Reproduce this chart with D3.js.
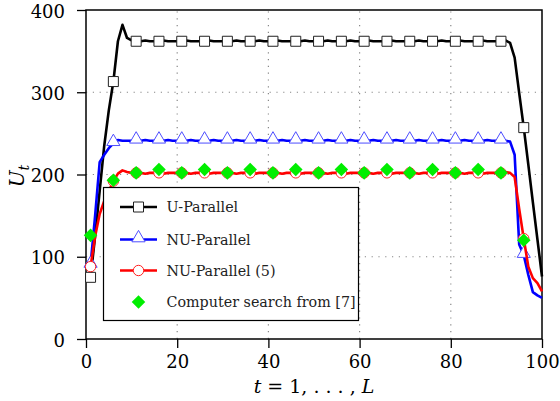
<!DOCTYPE html>
<html><head><meta charset="utf-8">
<script src="https://cdn.jsdelivr.net/npm/d3@7"></script>
<style>body{margin:0;background:#fff;}svg{display:block;}</style>
</head><body>
<svg id="c" width="560" height="401"></svg>
<script>
const seriesNames = ["U-Parallel", "NU-Parallel", "NU-Parallel (5)", "Computer search from [7]"];
const xTicks = [0, 20, 40, 60, 80, 100];
const yTicks = [0, 100, 200, 300, 400];

const uParallel = [
 75,125,180,235,278,313,362,382,366,363,
 362,362,363,362,362,362,363,362,362,362,
 362,363,362,362,362,362,363,362,362,362,
 362,362,363,362,362,362,362,363,362,362,
 362,363,362,362,362,362,362,363,362,362,
 362,362,363,362,362,362,362,363,362,362,
 362,363,362,362,362,362,363,362,362,362,
 362,362,363,362,362,362,362,363,362,362,
 362,363,362,362,362,362,363,362,362,362,
 362,363,360,342,299,257,212,166,121,76];

const nuParallel = [
 90,150,215,224,232,238,242,241,241,241,
 241,241,242,241,241,241,241,242,241,241,
 241,241,242,241,241,241,241,242,241,241,
 241,241,242,241,241,241,241,242,241,241,
 241,241,242,241,241,241,241,242,241,241,
 241,241,242,241,241,241,241,242,241,241,
 241,241,242,241,241,241,241,242,241,241,
 241,241,242,241,241,241,241,242,241,241,
 241,241,242,241,241,241,241,242,241,241,
 241,241,240,224,115,102,78,57,53,50];

const nuParallel5 = [
 88,125,152,168,180,192,201,205,203,202,
 202,202,201,202,202,202,201,202,202,202,
 202,202,201,202,202,202,201,202,202,202,
 202,202,201,202,202,202,201,202,202,202,
 202,202,201,202,202,202,201,202,202,202,
 202,202,201,202,202,202,201,202,202,202,
 202,202,201,202,202,202,201,202,202,202,
 202,202,201,202,202,202,201,202,202,202,
 202,202,201,202,202,202,201,202,202,202,
 202,203,202,197,158,122,88,74,68,58];

const searchT = [1,6,11,16,21,26,31,36,41,46,51,56,61,66,71,76,81,86,91,96];
const searchVals = [126,193,202,206,202,206,202,206,202,206,202,206,202,206,202,206,202,206,202,120];

const FONT = "DejaVu Serif";
const svg = d3.select("#c");
const x = d3.scaleLinear().domain([0, 100]).range([86, 542]);
const y = d3.scaleLinear().domain([0, 400]).range([339, 10]);

// grid
const grid = svg.append("g").attr("stroke", "#888").attr("stroke-width", 1.2).attr("stroke-dasharray", "1.2,5.6");
grid.selectAll(".gx").data(xTicks.slice(1, -1)).join("line")
  .attr("x1", d => x(d)).attr("x2", d => x(d)).attr("y1", y(0)).attr("y2", y(400));
grid.selectAll(".gy").data(yTicks.slice(1, -1)).join("line")
  .attr("y1", d => y(d)).attr("y2", d => y(d)).attr("x1", x(0)).attr("x2", x(100));

// axes
const xAxis = svg.append("g").attr("transform", `translate(0,${y(0)})`)
  .call(d3.axisBottom(x).tickValues(xTicks).tickSize(9).tickPadding(7).tickFormat(d3.format("d")));
const yAxis = svg.append("g").attr("transform", `translate(${x(0)},0)`)
  .call(d3.axisLeft(y).tickValues(yTicks).tickSize(9).tickPadding(12).tickFormat(d3.format("d")));
[xAxis, yAxis].forEach(a => {
  a.select(".domain").remove();
  a.attr("font-family", FONT).attr("font-size", 18);
  a.selectAll(".tick line").attr("stroke", "#000").attr("stroke-width", 1.3);
  a.selectAll("text").attr("font-family", FONT).attr("font-size", 18).attr("fill", "#000");
});
yAxis.selectAll("text").attr("dy", "0.4em");

// frame
svg.append("rect").attr("x", x(0)).attr("y", y(400)).attr("width", x(100) - x(0)).attr("height", y(0) - y(400))
  .attr("fill", "none").attr("stroke", "#000").attr("stroke-width", 1.5);

const ts = d3.range(1, 101);
const line = d3.line().x((d, i) => x(ts[i])).y(d => y(d));
const markIdx = d3.range(0, 100, 5);

const plot = svg.append("g");
function drawSeries(vals, color) {
  plot.append("path").datum(vals).attr("d", line).attr("fill", "none")
    .attr("stroke", color).attr("stroke-width", 2.6).attr("stroke-linejoin", "round");
}
const sq = d3.symbol().type(d3.symbolSquare).size(100);
const tri = d3.symbol().type(d3.symbolTriangle).size(75);
const circ = d3.symbol().type(d3.symbolCircle).size(85);
const dia = d3.symbol().type(d3.symbolSquare).size(92);

function drawMarks(vals, sym, fill, stroke, sw, dy) {
  plot.append("g").selectAll("path").data(markIdx).join("path")
    .attr("d", sym)
    .attr("transform", i => `translate(${x(ts[i])},${y(vals[i]) + (dy || 0)})`)
    .attr("fill", fill).attr("stroke", stroke).attr("stroke-width", sw);
}

drawSeries(uParallel, "#000");
drawMarks(uParallel, sq, "#fff", "#222", 1, 0);
drawSeries(nuParallel, "#0000ff");
drawMarks(nuParallel, tri, "#fff", "#4d4dff", 1, -1.5);
drawSeries(nuParallel5, "#ff0000");
drawMarks(nuParallel5, circ, "#fff", "#ff2020", 1, 0);

plot.append("g").selectAll("path").data(searchT).join("path")
  .attr("d", dia)
  .attr("transform", (t, i) => `translate(${x(t)},${y(searchVals[i])}) rotate(45)`)
  .attr("fill", "#00ee00");

// legend
const lg = svg.append("g");
lg.append("rect").attr("x", 103.5).attr("y", 187.5).attr("width", 255).attr("height", 133)
  .attr("fill", "#fff").attr("stroke", "#000").attr("stroke-width", 1.2);
const rows = [207, 239.5, 270.5, 302];
const lgStyles = [
  {c: "#000", sym: sq, fill: "#fff", st: "#222", rot: 0},
  {c: "#0000ff", sym: tri, fill: "#fff", st: "#4d4dff", rot: 0},
  {c: "#ff0000", sym: circ, fill: "#fff", st: "#ff2020", rot: 0},
  {c: null, sym: dia, fill: "#00ee00", st: "none", rot: 45}
];
seriesNames.forEach((name, i) => {
  const s = lgStyles[i], yy = rows[i];
  if (s.c) lg.append("line").attr("x1", 120).attr("x2", 157).attr("y1", yy).attr("y2", yy)
    .attr("stroke", s.c).attr("stroke-width", 2.6);
  lg.append("path").attr("d", s.sym).attr("transform", `translate(138.5,${yy + (i === 1 ? -1.5 : 0)}) rotate(${s.rot})`)
    .attr("fill", s.fill).attr("stroke", s.st).attr("stroke-width", 1);
  lg.append("text").attr("x", 166.5).attr("y", yy).attr("dy", "0.35em")
    .attr("font-family", FONT).attr("font-size", 14.3).attr("fill", "#222").text(name);
});

// axis labels
const yl = svg.append("text").attr("transform", `translate(24,176) rotate(-90)`)
  .attr("text-anchor", "middle").attr("font-family", FONT).attr("font-size", 20).attr("fill", "#000");
yl.append("tspan").attr("font-style", "italic").text("U");
yl.append("tspan").attr("font-style", "italic").attr("font-size", 14).attr("dy", 5).text("t");

const xl = svg.append("text").attr("x", 314).attr("y", 393)
  .attr("text-anchor", "middle").attr("font-family", FONT).attr("font-size", 19).attr("fill", "#000");
xl.append("tspan").attr("font-style", "italic").text("t");
xl.append("tspan").text(" = 1, . . . , ");
xl.append("tspan").attr("font-style", "italic").text("L");
</script>
</body></html>
